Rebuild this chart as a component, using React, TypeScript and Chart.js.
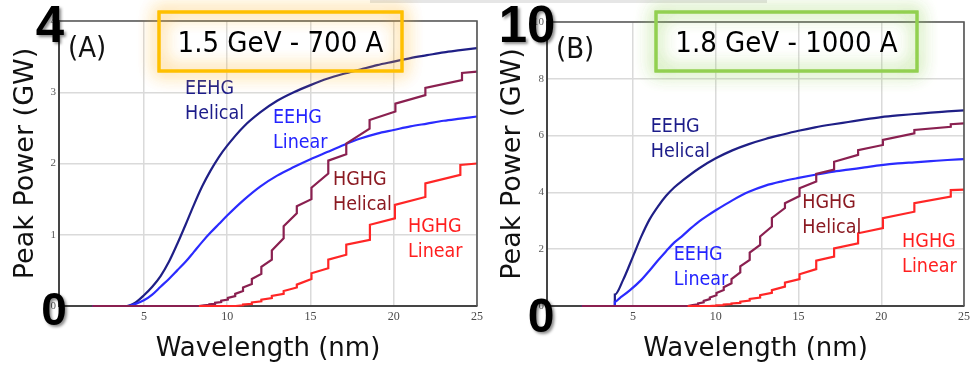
import React, { useEffect, useRef } from "react";
import { Chart, registerables } from "chart.js";
Chart.register(...registerables);

type Pt = [number, number];

// ---------- shared tick labels ----------
const wavelengthTicks = [5, 10, 15, 20, 25];
const powerTicksA = [0, 1, 2, 3, 4];
const powerTicksB = [0, 2, 4, 6, 8, 10];

// ---------- Panel A : 1.5 GeV - 700 A ----------
const eehgHelicalA: Pt[] = [[1.9, 0], [3.95, 0], [4.5, 0.05], [5, 0.15], [5.5, 0.27], [6, 0.42], [6.5, 0.62], [7, 0.87], [7.5, 1.14], [8, 1.42], [8.5, 1.68], [9, 1.9], [9.5, 2.09], [10, 2.25], [11, 2.52], [12, 2.72], [13, 2.88], [14, 3.0], [15, 3.1], [16, 3.19], [17, 3.26], [18, 3.32], [19, 3.38], [20, 3.43], [21, 3.48], [22, 3.52], [23, 3.56], [24, 3.59], [25, 3.62]];
const eehgLinearA: Pt[] = [[1.9, 0], [4.0, 0], [4.5, 0.03], [5, 0.08], [5.5, 0.16], [6, 0.27], [6.5, 0.38], [7, 0.5], [7.5, 0.62], [8, 0.76], [8.5, 0.9], [9, 1.03], [9.5, 1.15], [10, 1.27], [11, 1.49], [12, 1.68], [13, 1.83], [14, 1.95], [15, 2.06], [16, 2.16], [17, 2.26], [18, 2.35], [19, 2.42], [20, 2.47], [21, 2.52], [22, 2.56], [23, 2.6], [24, 2.63], [25, 2.66]];
const hghgHelicalA: Pt[] = [[1.9, 0], [8.3, 0], [8.6, 0.01], [8.93, 0.015], [8.93, 0.025], [9.27, 0.03], [9.27, 0.045], [9.64, 0.055], [9.64, 0.075], [10.04, 0.09], [10.04, 0.115], [10.48, 0.14], [10.48, 0.17], [10.95, 0.21], [10.95, 0.26], [11.48, 0.31], [11.48, 0.38], [12.05, 0.45], [12.05, 0.55], [12.68, 0.65], [12.68, 0.78], [13.39, 0.95], [13.39, 1.12], [14.18, 1.3], [14.18, 1.4], [15.06, 1.5], [15.06, 1.66], [16.07, 1.86], [16.07, 2.04], [17.15, 2.13], [17.15, 2.28], [18.55, 2.49], [18.55, 2.61], [20.1, 2.73], [20.1, 2.84], [21.9, 2.96], [21.9, 3.06], [24.1, 3.17], [24.1, 3.27], [25, 3.29]];
const hghgLinearA: Pt[] = [[8.3, 0], [10.5, 0], [10.95, 0.01], [10.95, 0.02], [11.48, 0.03], [11.48, 0.05], [12.05, 0.065], [12.05, 0.09], [12.68, 0.11], [12.68, 0.14], [13.39, 0.17], [13.39, 0.21], [14.18, 0.26], [14.18, 0.3], [15.06, 0.38], [15.06, 0.46], [16.07, 0.53], [16.07, 0.65], [17.15, 0.72], [17.15, 0.86], [18.57, 0.93], [18.57, 1.14], [20.07, 1.23], [20.07, 1.42], [21.9, 1.53], [21.9, 1.72], [24.0, 1.84], [24.0, 1.98], [25, 2.0]];

// ---------- Panel B : 1.8 GeV - 1000 A ----------
const eehgHelicalB: Pt[] = [[1.9, 0], [3.9, 0], [3.9, 0.4], [4.4, 0.92], [5, 1.75], [5.5, 2.45], [6, 3.05], [6.5, 3.5], [7, 3.88], [7.5, 4.18], [8, 4.42], [9, 4.85], [10, 5.2], [11, 5.48], [12, 5.7], [13, 5.88], [14, 6.03], [15, 6.17], [16, 6.29], [17, 6.39], [18, 6.48], [19, 6.57], [20, 6.65], [21, 6.71], [22, 6.76], [23, 6.81], [24, 6.85], [25, 6.89]];
const eehgLinearB: Pt[] = [[1.9, 0], [3.9, 0], [3.9, 0.15], [4.2, 0.28], [4.8, 0.55], [5.5, 0.92], [6, 1.25], [6.5, 1.6], [7, 1.93], [7.5, 2.24], [8, 2.48], [8.5, 2.74], [9, 2.98], [9.5, 3.18], [10, 3.37], [11, 3.72], [12, 4.02], [13, 4.24], [14, 4.39], [15, 4.51], [16, 4.62], [17, 4.72], [18, 4.8], [19, 4.88], [20, 4.96], [21, 5.02], [22, 5.06], [23, 5.1], [24, 5.14], [25, 5.17]];
const hghgHelicalB: Pt[] = [[1.9, 0], [8.3, 0], [8.6, 0.03], [8.93, 0.06], [8.93, 0.09], [9.27, 0.13], [9.27, 0.18], [9.64, 0.24], [9.64, 0.3], [10.04, 0.38], [10.04, 0.46], [10.48, 0.56], [10.48, 0.66], [10.95, 0.8], [10.95, 0.95], [11.48, 1.18], [11.48, 1.4], [12.05, 1.62], [12.05, 1.88], [12.68, 2.15], [12.68, 2.45], [13.39, 2.8], [13.39, 3.1], [14.18, 3.45], [14.18, 3.62], [15.06, 3.87], [15.06, 4.15], [16.07, 4.38], [16.07, 4.65], [17.15, 4.8], [17.15, 5.08], [18.6, 5.32], [18.6, 5.49], [20.1, 5.67], [20.1, 5.85], [22.0, 6.08], [22.0, 6.2], [24.2, 6.31], [24.2, 6.4], [25, 6.43]];
const hghgLinearB: Pt[] = [[8.3, 0], [9.6, 0], [10.04, 0.01], [10.04, 0.02], [10.48, 0.03], [10.48, 0.05], [10.95, 0.07], [10.95, 0.09], [11.48, 0.11], [11.48, 0.15], [12.05, 0.19], [12.05, 0.25], [12.68, 0.3], [12.68, 0.38], [13.39, 0.46], [13.39, 0.56], [14.18, 0.68], [14.18, 0.82], [15.06, 0.95], [15.06, 1.12], [16.07, 1.3], [16.07, 1.6], [17.15, 1.74], [17.15, 2.03], [18.6, 2.21], [18.6, 2.56], [20.1, 2.74], [20.1, 3.09], [22.0, 3.32], [22.0, 3.62], [24.2, 3.85], [24.2, 4.08], [25, 4.1]];

// ---------- styling ----------
const C_NAVY = "#1f1f86";
const C_BLUE = "#2b2bff";
const C_MAROON = "#8a2050";
const C_RED = "#ff2626";
const L_NAVY = "#1c1c8a";
const L_BLUE = "#2424ff";
const L_MAROON = "#8b1a22";
const L_RED = "#ff1f1f";

const SANS = "'DejaVu Sans', 'Verdana', sans-serif";
const COND = "'DejaVu Sans Condensed', 'Open Sans', sans-serif";
const SERIF = "'Liberation Serif', 'Times New Roman', serif";
const BOLD = "'Liberation Sans', Arial, sans-serif";

// smooth: index from which the series is drawn as a smooth curve (earlier part straight)
type Series = { points: Pt[]; color: string; smoothFrom: number | null };
type Label = { lines: string[]; x: number; y: number; color: string };
type Spec = {
  letter: string;
  boxText: string;
  boxRect: [number, number, number, number];
  boxColor: string;
  boxGlow: string;
  yTicks: number[];
  yMax: number;
  xMin: number;
  padTop: number;
  padRight: number;
  yWidth: number;
  series: Series[];
  labels: Label[];
  bigTop: { text: string; cx: number; base: number; size: number };
  bigZero: { cx: number; base: number; size: number };
  greyBar: [number, number];
};

const specA: Spec = {
  letter: "(A)",
  boxText: "1.5 GeV - 700 A",
  boxRect: [159, 12, 243, 59],
  boxColor: "#ffc000",
  boxGlow: "rgba(255,180,40,0.9)",
  yTicks: powerTicksA,
  yMax: 4,
  xMin: -0.1,
  padTop: 21,
  padRight: 10,
  yWidth: 59,
  series: [
    { points: hghgLinearA, color: C_RED, smoothFrom: null },
    { points: hghgHelicalA, color: C_MAROON, smoothFrom: null },
    { points: eehgLinearA, color: C_BLUE, smoothFrom: 0 },
    { points: eehgHelicalA, color: C_NAVY, smoothFrom: 0 },
  ],
  labels: [
    { lines: ["EEHG", "Helical"], x: 7.47, y: 2.975, color: L_NAVY },
    { lines: ["EEHG", "Linear"], x: 12.75, y: 2.57, color: L_BLUE },
    { lines: ["HGHG", "Helical"], x: 16.35, y: 1.7, color: L_MAROON },
    { lines: ["HGHG", "Linear"], x: 20.86, y: 1.04, color: L_RED },
  ],
  bigTop: { text: "4", cx: 50, base: 42, size: 51 },
  bigZero: { cx: 54, base: 325, size: 46 },
  greyBar: [370, 487],
};

const specB: Spec = {
  letter: "(B)",
  boxText: "1.8 GeV - 1000 A",
  boxRect: [169, 12, 261, 59],
  boxColor: "#92d050",
  boxGlow: "rgba(150,210,90,0.9)",
  yTicks: powerTicksB,
  yMax: 10,
  xMin: -0.2,
  padTop: 22,
  padRight: 9,
  yWidth: 60,
  series: [
    { points: hghgLinearB, color: C_RED, smoothFrom: null },
    { points: hghgHelicalB, color: C_MAROON, smoothFrom: null },
    { points: eehgLinearB, color: C_BLUE, smoothFrom: 2 },
    { points: eehgHelicalB, color: C_NAVY, smoothFrom: 2 },
  ],
  labels: [
    { lines: ["EEHG", "Helical"], x: 6.07, y: 6.13, color: L_NAVY },
    { lines: ["EEHG", "Linear"], x: 7.46, y: 1.62, color: L_BLUE },
    { lines: ["HGHG", "Helical"], x: 15.23, y: 3.45, color: L_MAROON },
    { lines: ["HGHG", "Linear"], x: 21.26, y: 2.08, color: L_RED },
  ],
  bigTop: { text: "10", cx: 40, base: 42, size: 51 },
  bigZero: { cx: 54, base: 332, size: 48 },
  greyBar: [0, 280],
};

function makeOverlay(spec: Spec) {
  return {
    id: "overlay",
    afterDraw(chart: any) {
      const { ctx, chartArea: ca, scales } = chart;
      ctx.save();
      // top & right frame
      ctx.strokeStyle = "#555";
      ctx.lineWidth = 1.6;
      ctx.beginPath();
      ctx.moveTo(ca.left, ca.top);
      ctx.lineTo(ca.right, ca.top);
      ctx.lineTo(ca.right, ca.bottom);
      ctx.stroke();

      // grey bar at very top
      ctx.fillStyle = "#e6e6e6";
      ctx.fillRect(spec.greyBar[0], 0, spec.greyBar[1] - spec.greyBar[0], 3);

      // panel letter
      ctx.fillStyle = "#111";
      ctx.font = `29px ${COND}`;
      ctx.textAlign = "left";
      ctx.textBaseline = "alphabetic";
      ctx.fillText(spec.letter, ca.left + 9, ca.top + 36);

      // series labels
      ctx.font = `19.5px ${COND}`;
      for (const lab of spec.labels) {
        const x = scales.x.getPixelForValue(lab.x);
        const y = scales.y.getPixelForValue(lab.y);
        ctx.fillStyle = lab.color;
        lab.lines.forEach((t, i) => ctx.fillText(t, x, y + i * 25));
      }

      // glowing box
      const [bx, by, bw, bh] = spec.boxRect;
      ctx.save();
      ctx.shadowColor = spec.boxGlow;
      ctx.shadowBlur = 18;
      ctx.strokeStyle = spec.boxColor;
      ctx.lineWidth = 3;
      ctx.strokeRect(bx, by, bw, bh);
      ctx.strokeRect(bx, by, bw, bh);
      ctx.restore();
      ctx.fillStyle = "#000";
      ctx.font = `29px ${COND}`;
      ctx.textAlign = "center";
      ctx.fillText(spec.boxText, bx + bw / 2, 52);

      // big bold axis numbers
      ctx.save();
      ctx.shadowColor = "rgba(0,0,0,0.45)";
      ctx.shadowBlur = 3;
      ctx.shadowOffsetX = 2;
      ctx.shadowOffsetY = 2;
      ctx.fillStyle = "#000";
      ctx.font = `bold ${spec.bigTop.size}px ${BOLD}`;
      ctx.fillText(spec.bigTop.text, spec.bigTop.cx, spec.bigTop.base);
      ctx.font = `bold ${spec.bigZero.size}px ${BOLD}`;
      ctx.fillText("0", spec.bigZero.cx, spec.bigZero.base);
      ctx.restore();
      ctx.restore();
    },
  };
}

function lineDataset(points: Pt[], color: string, smooth: boolean) {
  return {
    data: points.map(([x, y]) => ({ x, y })),
    borderColor: color,
    borderWidth: 2.2,
    pointRadius: 0,
    fill: false,
    tension: smooth ? 0.4 : 0,
    cubicInterpolationMode: smooth ? "monotone" : "default",
    clip: false,
  };
}

function buildDatasets(spec: Spec) {
  const out: any[] = [];
  for (const s of spec.series) {
    if (s.smoothFrom === null) {
      out.push(lineDataset(s.points, s.color, false));
    } else if (s.smoothFrom === 0) {
      out.push(lineDataset(s.points, s.color, true));
    } else {
      out.push(lineDataset(s.points.slice(s.smoothFrom - 1), s.color, true));
      out.push(lineDataset(s.points.slice(0, s.smoothFrom), s.color, false));
    }
  }
  return out;
}

function buildConfig(spec: Spec): any {
  return {
    type: "line",
    data: { datasets: buildDatasets(spec) },
    options: {
      animation: false,
      responsive: false,
      devicePixelRatio: 1,
      layout: { padding: { left: 0, top: spec.padTop, right: spec.padRight, bottom: 0 } },
      plugins: { legend: { display: false }, tooltip: { enabled: false } },
      scales: {
        x: {
          type: "linear",
          min: spec.xMin,
          max: 25,
          afterBuildTicks: (s: any) => {
            s.ticks = wavelengthTicks.map((v) => ({ value: v }));
          },
          afterFit: (s: any) => {
            s.height = 61;
          },
          ticks: { font: { family: SERIF, size: 12 }, color: "#4a4a4a", padding: 4, maxRotation: 0, autoSkip: false },
          grid: { color: "#dadada", lineWidth: 1.5, drawTicks: false },
          border: { color: "#454545", width: 2 },
          title: { display: true, text: "Wavelength (nm)", font: { family: SANS, size: 26 }, color: "#111", padding: { top: 0, bottom: 2 } },
        },
        y: {
          type: "linear",
          min: 0,
          max: spec.yMax,
          afterBuildTicks: (s: any) => {
            s.ticks = spec.yTicks.map((v) => ({ value: v }));
          },
          afterFit: (s: any) => {
            s.width = spec.yWidth;
          },
          ticks: { font: { family: SERIF, size: 11 }, color: "#5a5a5a", padding: 3, autoSkip: false },
          grid: { color: "#dadada", lineWidth: 1.5, drawTicks: false },
          border: { color: "#454545", width: 2 },
          title: { display: true, text: "Peak Power (GW)", font: { family: SANS, size: 27 }, color: "#111", padding: { top: 10, bottom: 0 } },
        },
      },
    },
    plugins: [makeOverlay(spec)],
  };
}

function Panel({ spec, left }: { spec: Spec; left: number }) {
  const ref = useRef<HTMLCanvasElement>(null);
  useEffect(() => {
    const chart = new Chart(ref.current as HTMLCanvasElement, buildConfig(spec));
    return () => chart.destroy();
  }, [spec]);
  return (
    <div style={{ position: "absolute", left, top: 0, width: 487, height: 367 }}>
      <canvas ref={ref} width={487} height={367} style={{ display: "block", width: 487, height: 367 }} />
    </div>
  );
}

export default function App() {
  return (
    <div style={{ position: "fixed", left: 0, top: 0, width: 974, height: 367, background: "#fff", overflow: "hidden" }}>
      <Panel spec={specA} left={0} />
      <Panel spec={specB} left={487} />
    </div>
  );
}
